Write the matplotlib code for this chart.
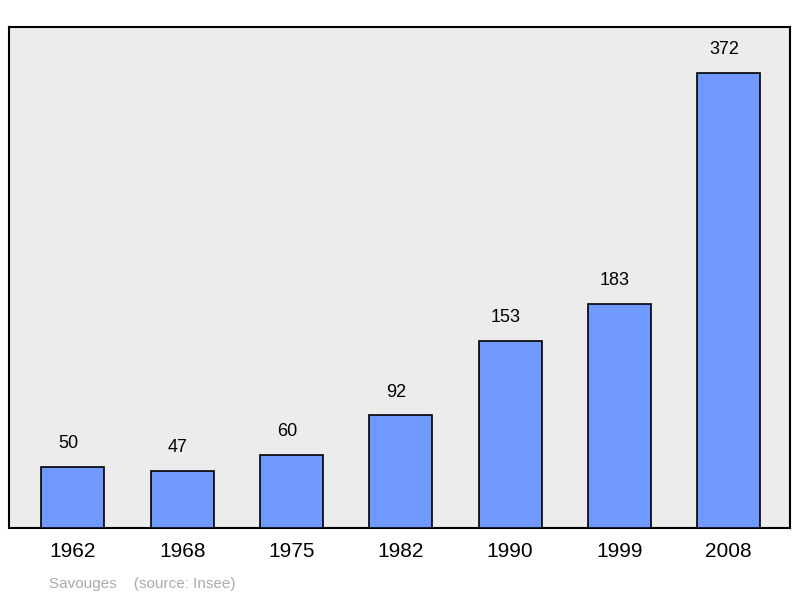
import matplotlib
matplotlib.use("Agg")
import matplotlib.pyplot as plt
from matplotlib.patches import FancyBboxPatch

years = ["1962", "1968", "1975", "1982", "1990", "1999", "2008"]
population = [50, 47, 60, 92, 153, 183, 372]

plt.rcParams['font.family'] = ['Liberation Sans', 'DejaVu Sans']
fig = plt.figure(figsize=(8, 5.98), dpi=100)
ax = fig.add_axes([9/800, 70/598, 781/800, 501/598])
ax.set_facecolor('#ececec')
x = list(range(len(years)))
bars = ax.bar(x, population, width=0.577, color='#7099ff', edgecolor='black', linewidth=1.2, zorder=3)
for xi, v in zip(x, population):
    ax.text(xi - 0.04, v + 12, str(v), ha='center', va='bottom', fontsize=13)
ax.set_xlim(-0.585, 6.56)
ax.set_ylim(0, 409.6)
ax.set_yticks([])
ax.set_xticks(x)
ax.set_xticklabels(years, fontsize=15)
ax.tick_params(axis='x', length=0, pad=10)
for s in ax.spines.values():
    s.set_linewidth(1.5)
fig.text(49/800, 1 - 584/598, "Savouges    (source: Insee)", color='#aaaaaa', fontsize=11, va='center')
fig.savefig("out.png", dpi=100)
